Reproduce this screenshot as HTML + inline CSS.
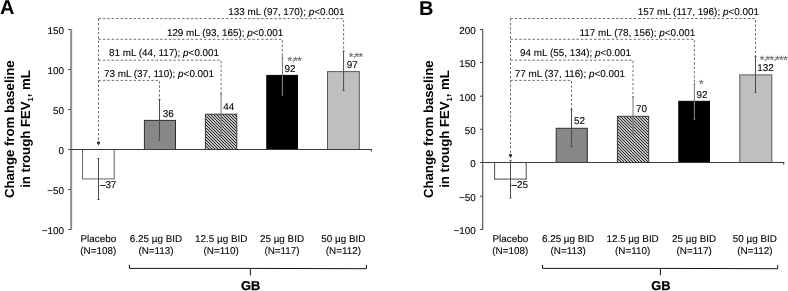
<!DOCTYPE html>
<html><head><meta charset="utf-8"><title>Figure</title>
<style>
html,body{margin:0;padding:0;background:#fff;}
svg{display:block;will-change:transform;}
text{font-family:"Liberation Sans", Arial, sans-serif;fill:#000;text-rendering:geometricPrecision;}
.t{font-size:9.9px;stroke:#000;stroke-width:0.1px;}
.b{font-weight:bold;}
.ax{stroke:#3a3a3a;stroke-width:1.1;fill:none;}
.tk{stroke:#333;stroke-width:1;fill:none;}
.d{stroke:#666;stroke-width:0.95;fill:none;stroke-dasharray:2.4 2;}
.e{stroke:#4a4a4a;stroke-width:1;fill:none;}
.eg{stroke:#757575;stroke-width:1;fill:none;}
.s{font-size:12px;fill:#6c6c6c;stroke:#6c6c6c;stroke-width:0.15px;letter-spacing:-0.6px;}
</style></head><body>
<svg width="788" height="291" viewBox="0 0 788 291">
<defs>
<pattern id="h" width="3" height="3" patternUnits="userSpaceOnUse">
<rect width="3" height="3" fill="#fff"/><path d="M-1 -1L4 4M-1 2L1 4M2 -1L4 1" stroke="#1a1a1a" stroke-width="1.04"/>
</pattern>
</defs>
<rect width="788" height="291" fill="#fff"/>
<text class="b" x="0.1" y="14.4" font-size="20">A</text>
<text class="b" font-size="13.2" text-anchor="middle" transform="translate(14.1,129.2) rotate(-90)">Change from baseline</text>
<text class="b" font-size="13.2" text-anchor="middle" transform="translate(30,129.0) rotate(-90)">in trough FEV<tspan font-size="7.5" dy="3.4">1</tspan><tspan dy="-3.4">, mL</tspan></text>
<path d="M71.15 29.0V230.0" fill="none" stroke="#8e8e8e" stroke-width="2"/>
<path class="tk" d="M68.3 29.5H70.5"/>
<text class="t" x="63.9" y="33.9" text-anchor="end">150</text>
<path class="tk" d="M68.3 69.5H70.5"/>
<text class="t" x="63.9" y="73.9" text-anchor="end">100</text>
<path class="tk" d="M68.3 109.5H70.5"/>
<text class="t" x="63.9" y="113.9" text-anchor="end">50</text>
<path class="tk" d="M68.3 149.5H70.5"/>
<text class="t" x="63.9" y="153.9" text-anchor="end">0</text>
<path class="tk" d="M68.3 189.5H70.5"/>
<text class="t" x="63.9" y="193.9" text-anchor="end">−50</text>
<path class="tk" d="M68.3 229.5H70.5"/>
<text class="t" x="63.9" y="233.9" text-anchor="end">−100</text>
<rect x="82.5" y="149.5" width="31.7" height="29.4" fill="#fff" stroke="#666" stroke-width="1"/>
<rect x="144.4" y="120.4" width="31.1" height="29.1" fill="#878787" stroke="#2e2e2e" stroke-width="1"/>
<rect x="205.4" y="114.2" width="31.4" height="35.3" fill="url(#h)" stroke="#3a3a3a" stroke-width="1"/>
<rect x="266.8" y="75.4" width="30.7" height="74.1" fill="#000" stroke="#000" stroke-width="1"/>
<rect x="327.5" y="71.6" width="31.8" height="77.9" fill="#bfbfbf" stroke="#5a5a5a" stroke-width="1"/>
<path class="ax" d="M70.9 149.5H371.3v2"/>
<path class="e" d="M98.5 158.5V199.5M97.5 158.5h2M97.5 199.5h2"/>
<text class="t" x="99.9" y="188.2">–37</text>
<path class="e" d="M159.5 99.5V140.3M158.5 99.5h2M158.5 140.3h2"/>
<text class="t" x="162.8" y="116.7">36</text>
<path class="eg" d="M221.1 94V135.7M220.1 94h2M220.1 135.7h2"/>
<path d="M221.1 114.7V135.7" stroke="#858585" stroke-width="0.8" fill="none"/>
<text class="t" x="223.3" y="110.2">44</text>
<path class="eg" d="M282.4 57V95M281.4 57h2M281.4 95h2"/>
<path d="M282.4 75.9V95" stroke="#858585" stroke-width="0.8" fill="none"/>
<text class="t" x="284.6" y="71.6">92</text>
<text class="s" x="287.6" y="65.2">*<tspan dy="-4.5" dx="0.2" font-size="9" letter-spacing="0">,</tspan><tspan dy="4.5" dx="-1.2">**</tspan></text>
<path class="e" d="M343.6 51V90.5M342.6 51h2M342.6 90.5h2"/>
<text class="t" x="346.8" y="67.6">97</text>
<text class="s" x="348.8" y="61.1">*<tspan dy="-4.5" dx="0.2" font-size="9" letter-spacing="0">,</tspan><tspan dy="4.5" dx="-1.2">**</tspan></text>
<path class="d" d="M98.5 18.6V141.6"/>
<path d="M98.5 145.6l-1.8 -3.1l1.8 -1.2l1.8 1.2z" fill="#222"/>
<path class="d" d="M98.5 18.6H343.6V51"/>
<path class="d" d="M98.5 39.3H282.4V57"/>
<path class="d" d="M98.5 60.2H221.1V94"/>
<path class="d" d="M98.5 80.4H159.5V99.5"/>
<text class="t" x="228.3" y="14.5">133 mL (97, 170); <tspan font-style="italic">p</tspan>&lt;0.001</text>
<text class="t" x="166.9" y="36">129 mL (93, 165); <tspan font-style="italic">p</tspan>&lt;0.001</text>
<text class="t" x="109" y="55.9">81 mL (44, 117); <tspan font-style="italic">p</tspan>&lt;0.001</text>
<text class="t" x="104" y="76.9">73 mL (37, 110); <tspan font-style="italic">p</tspan>&lt;0.001</text>
<text class="t" x="98.3" y="241.7" text-anchor="middle">Placebo</text>
<text class="t" x="98.3" y="253.7" text-anchor="middle">(N=108)</text>
<text class="t" x="156" y="241.7" text-anchor="middle">6.25 µg BID</text>
<text class="t" x="156" y="253.7" text-anchor="middle">(N=113)</text>
<text class="t" x="221.2" y="241.7" text-anchor="middle">12.5 µg BID</text>
<text class="t" x="221.2" y="253.7" text-anchor="middle">(N=110)</text>
<text class="t" x="282" y="241.7" text-anchor="middle">25 µg BID</text>
<text class="t" x="282" y="253.7" text-anchor="middle">(N=117)</text>
<text class="t" x="343.4" y="241.7" text-anchor="middle">50 µg BID</text>
<text class="t" x="343.4" y="253.7" text-anchor="middle">(N=112)</text>
<path d="M129.4 264.8V268.4H250.4L366.4 268.7V264.8M250.4 268.4V275.4" stroke="#151515" stroke-width="1" fill="none"/>
<text class="b" font-size="12.8" stroke="#000" stroke-width="0.3" x="250.6" y="289.6" text-anchor="middle">GB</text>
<text class="b" x="418.9" y="14.9" font-size="20">B</text>
<text class="b" font-size="13.2" text-anchor="middle" transform="translate(433.1,129.2) rotate(-90)">Change from baseline</text>
<text class="b" font-size="13.2" text-anchor="middle" transform="translate(448.6,129.0) rotate(-90)">in trough FEV<tspan font-size="7.5" dy="3.4">1</tspan><tspan dy="-3.4">, mL</tspan></text>
<path d="M482.7 29.0V230.0" fill="none" stroke="#555" stroke-width="1.2"/>
<path class="tk" d="M480.1 29.5H482.3"/>
<text class="t" x="475.7" y="33.9" text-anchor="end">200</text>
<path class="tk" d="M480.1 62.5H482.3"/>
<text class="t" x="475.7" y="66.9" text-anchor="end">150</text>
<path class="tk" d="M480.1 96.2H482.3"/>
<text class="t" x="475.7" y="100.6" text-anchor="end">100</text>
<path class="tk" d="M480.1 129.3H482.3"/>
<text class="t" x="475.7" y="133.7" text-anchor="end">50</text>
<path class="tk" d="M480.1 162.5H482.3"/>
<text class="t" x="475.7" y="166.9" text-anchor="end">0</text>
<path class="tk" d="M480.1 196.2H482.3"/>
<text class="t" x="475.7" y="200.6" text-anchor="end">−50</text>
<path class="tk" d="M480.1 229.5H482.3"/>
<text class="t" x="475.7" y="233.9" text-anchor="end">−100</text>
<rect x="494.6" y="162.5" width="31.6" height="16.6" fill="#fff" stroke="#4a4a4a" stroke-width="1"/>
<rect x="556.2" y="128.3" width="31.1" height="34.2" fill="#878787" stroke="#2e2e2e" stroke-width="1"/>
<rect x="617.4" y="116.3" width="31.3" height="46.2" fill="url(#h)" stroke="#3a3a3a" stroke-width="1"/>
<rect x="678.8" y="101.3" width="30.7" height="61.2" fill="#000" stroke="#000" stroke-width="1"/>
<rect x="739.8" y="74.9" width="32.0" height="87.6" fill="#bfbfbf" stroke="#5a5a5a" stroke-width="1"/>
<path class="ax" d="M482.7 162.5H783.7v2"/>
<path class="e" d="M510.5 160.4V198M509.5 160.4h2M509.5 198h2"/>
<text class="t" x="511.5" y="188.3">–25</text>
<path class="e" d="M571.5 109.4V146.5M570.5 109.4h2M570.5 146.5h2"/>
<text class="t" x="574" y="124.3">52</text>
<path class="eg" d="M633 97V134.1M632 97h2M632 134.1h2"/>
<path d="M633 116.8V134.1" stroke="#858585" stroke-width="0.8" fill="none"/>
<text class="t" x="636" y="112.1">70</text>
<path class="eg" d="M694.4 84V119.3M693.4 84h2M693.4 119.3h2"/>
<path d="M694.4 101.8V119.3" stroke="#858585" stroke-width="0.8" fill="none"/>
<text class="t" x="696.6" y="97.7">92</text>
<text class="s" x="699" y="87.7">*</text>
<path class="e" d="M755.5 56.4V92.5M754.5 56.4h2M754.5 92.5h2"/>
<text class="t" x="757.2" y="71.1">132</text>
<text class="s" x="759.8" y="64.4">*<tspan dy="-4.5" dx="0.2" font-size="9" letter-spacing="0">,</tspan><tspan dy="4.5" dx="-1.2">**</tspan><tspan dy="-4.5" dx="0.2" font-size="9" letter-spacing="0">,</tspan><tspan dy="4.5" dx="-1.2">***</tspan></text>
<path class="d" d="M510.5 18.5V154"/>
<path d="M510.5 158l-1.8 -3.1l1.8 -1.2l1.8 1.2z" fill="#222"/>
<path class="d" d="M510.5 18.5H755.5V56.4"/>
<path class="d" d="M510.5 39.3H694.4V84"/>
<path class="d" d="M510.5 60.2H633V97"/>
<path class="d" d="M510.5 80.4H571.5V109.4"/>
<text class="t" x="637.8" y="14.5">157 mL (117, 196); <tspan font-style="italic">p</tspan>&lt;0.001</text>
<text class="t" x="579.6" y="36">117 mL (78, 156); <tspan font-style="italic">p</tspan>&lt;0.001</text>
<text class="t" x="520.1" y="55.9">94 mL (55, 134); <tspan font-style="italic">p</tspan>&lt;0.001</text>
<text class="t" x="514.8" y="76.9">77 mL (37, 116); <tspan font-style="italic">p</tspan>&lt;0.001</text>
<text class="t" x="510.3" y="241.7" text-anchor="middle">Placebo</text>
<text class="t" x="510.3" y="253.7" text-anchor="middle">(N=108)</text>
<text class="t" x="568.1" y="241.7" text-anchor="middle">6.25 µg BID</text>
<text class="t" x="568.1" y="253.7" text-anchor="middle">(N=113)</text>
<text class="t" x="632.6" y="241.7" text-anchor="middle">12.5 µg BID</text>
<text class="t" x="632.6" y="253.7" text-anchor="middle">(N=110)</text>
<text class="t" x="694.1" y="241.7" text-anchor="middle">25 µg BID</text>
<text class="t" x="694.1" y="253.7" text-anchor="middle">(N=117)</text>
<text class="t" x="754.9" y="241.7" text-anchor="middle">50 µg BID</text>
<text class="t" x="754.9" y="253.7" text-anchor="middle">(N=112)</text>
<path d="M542.5 264.8V268.4H660.4L777.7 268.7V264.8M660.4 268.4V275.4" stroke="#151515" stroke-width="1" fill="none"/>
<text class="b" font-size="12.8" stroke="#000" stroke-width="0.3" x="660.8" y="289.6" text-anchor="middle">GB</text>
</svg></body></html>
